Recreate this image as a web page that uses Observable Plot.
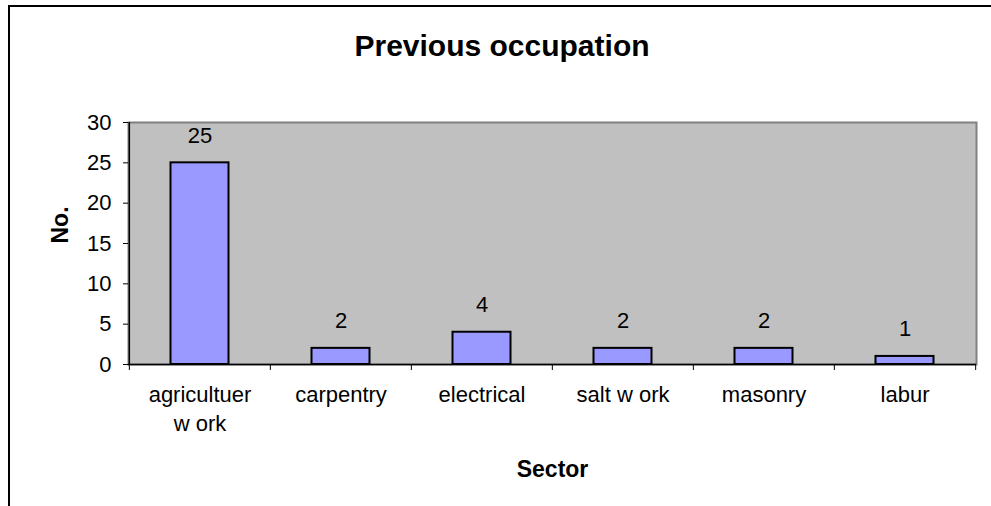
<!DOCTYPE html>
<html><head><meta charset="utf-8">
<script src="https://cdn.jsdelivr.net/npm/d3@7"></script>
<script src="https://cdn.jsdelivr.net/npm/@observablehq/plot@0.6"></script>
<style>
body{margin:0;background:#fff;}
#wrap{position:relative;width:991px;height:506px;overflow:hidden;}
#chart{position:absolute;left:0;top:0;}
#border{position:absolute;left:8px;top:5px;width:1200px;height:800px;border-left:2px solid #000;border-top:2px solid #000;pointer-events:none;}
</style></head><body>
<div id="wrap"><div id="chart"></div><div id="border"></div></div>
<script>
const title = "Previous occupation";
const xLabel = "Sector";
const yLabel = "No.";
const sectors = ["agricultuer work", "carpentry", "electrical", "salt work", "masonry", "labur"];
const sectorLabels = ["agricultuer\nw ork", "carpentry", "electrical", "salt w ork", "masonry", "labur"];
const counts = [25, 2, 4, 2, 2, 1];
const yTicks = [0, 5, 10, 15, 20, 25, 30];

const data = sectors.map((s, i) => ({sector: s, count: counts[i]}));
const W = 991, H = 506, mL = 128, mT = 122, mR = 15, mB = 142;
const bw = (W - mL - mR) / sectors.length;
const font = "'Liberation Sans', Arial, sans-serif";

const chart = Plot.plot({
  width: W, height: H,
  marginLeft: mL, marginTop: mT, marginRight: mR, marginBottom: mB,
  style: {fontFamily: font, fontSize: "22px", color: "#000", background: "transparent", overflow: "visible"},
  x: {domain: sectors, padding: 0, axis: null},
  y: {domain: [0, 30], axis: null},
  marks: [
    Plot.frame({fill: "#c0c0c0", stroke: "#808080", strokeWidth: 2}),
    Plot.barY(data, {x: "sector", y: "count", fill: "#9999ff", stroke: "#000", strokeWidth: 2, insetLeft: 41.5, insetRight: 41.5}),
    Plot.ruleY([0], {stroke: "#000", strokeWidth: 1.5}),
    Plot.ruleX([sectors[0]], {dx: -bw / 2, stroke: "#000", strokeWidth: 1.5}),
    Plot.ruleX(sectors, {dx: -bw / 2, insetTop: H - mT - mB, insetBottom: -6, stroke: "#000", strokeWidth: 1}),
    Plot.ruleX([sectors[sectors.length - 1]], {dx: bw / 2, insetTop: H - mT - mB, insetBottom: -6, stroke: "#000", strokeWidth: 1}),
    Plot.axisY({ticks: yTicks, tickSize: 5, tickPadding: 12, fontSize: 22, label: null, stroke: "#000"}),
    Plot.axisX({tickSize: 0, tickPadding: 17, fontSize: 22, lineHeight: 1.32, label: null,
      tickFormat: d => sectorLabels[sectors.indexOf(d)]}),
    Plot.text(data, {x: "sector", y: "count", text: d => String(d.count), dy: -20, lineAnchor: "bottom", fontSize: 22}),
    Plot.text([title], {frameAnchor: "top", dx: 501.5 - (mL + (W - mL - mR) / 2), dy: 55 - mT, lineAnchor: "bottom", fontSize: 30, fontWeight: "bold"}),
    Plot.text([xLabel], {frameAnchor: "bottom", dy: 476 - (H - mB), lineAnchor: "bottom", fontSize: 23, fontWeight: "bold"}),
    Plot.text([yLabel], {frameAnchor: "left", dx: 67 - mL, rotate: -90, lineAnchor: "bottom", fontSize: 23, fontWeight: "bold"})
  ]
});
document.getElementById("chart").appendChild(chart);
</script>
</body></html>
